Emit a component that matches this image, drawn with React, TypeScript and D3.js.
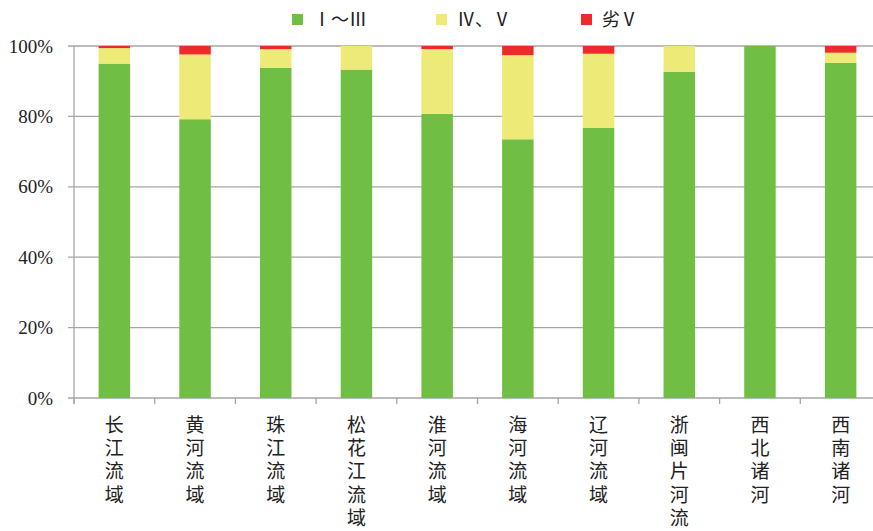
import React, { useEffect, useRef } from 'react';
import * as d3 from 'd3';

// River basins (vertical labels)
const categories = ['长江流域', '黄河流域', '珠江流域', '松花江流域', '淮河流域', '海河流域', '辽河流域', '浙闽片河流', '西北诸河', '西南诸河'];
const seriesNames = ['Ⅰ～Ⅲ', 'Ⅳ、Ⅴ', '劣Ⅴ'];
const seriesColors = ['#70bf44', '#edea78', '#ee2a2a'];

// share of sections per class, in %
const gradeI_III = [95.0, 79.2, 93.8, 93.3, 80.7, 73.5, 76.7, 92.7, 100, 95.2];
const gradeIV_V = [4.4, 18.4, 5.3, 6.7, 18.4, 23.9, 21.1, 7.3, 0, 2.9];
const gradeWorse = [0.6, 2.4, 0.9, 0, 0.9, 2.6, 2.2, 0, 0, 1.9];

const yTicks = [0, 20, 40, 60, 80, 100];

const W = 873;
const H = 531;

const App = () => {
  const svgRef = useRef(null);

  useEffect(() => {
    const svg = d3.select(svgRef.current);
    svg.selectAll('*').remove();

    const left = 74;
    const right = 881;
    const top = 46;
    const bottom = 398;

    const rows = categories.map((c, i) => ({
      name: c,
      a: gradeI_III[i],
      b: gradeIV_V[i],
      c: gradeWorse[i],
    }));
    const keys = ['a', 'b', 'c'];

    const x = d3.scaleBand().domain(categories).range([left, right]).paddingInner(0.61).paddingOuter(0.305);
    const y = d3.scaleLinear().domain([0, 100]).range([bottom, top]);

    // gridlines
    svg.append('g')
      .selectAll('line')
      .data(yTicks)
      .enter()
      .append('line')
      .attr('x1', left - 6)
      .attr('x2', W)
      .attr('y1', d => y(d))
      .attr('y2', d => y(d))
      .style('stroke', '#a6a6a6')
      .style('stroke-width', '1.3px');

    // y axis line
    svg.append('line')
      .attr('x1', left).attr('x2', left)
      .attr('y1', top).attr('y2', bottom + 6)
      .style('stroke', '#a6a6a6')
      .style('stroke-width', '1.3px');

    // y labels
    svg.append('g')
      .selectAll('text')
      .data(yTicks)
      .enter()
      .append('text')
      .attr('x', left - 21)
      .attr('y', d => y(d))
      .attr('dy', '0.35em')
      .attr('text-anchor', 'end')
      .style('font-family', '"Liberation Serif", serif')
      .style('font-size', '19px')
      .style('fill', '#222')
      .text(d => d + '%');

    // bars
    const stack = d3.stack().keys(keys);
    const layers = stack(rows);
    svg.append('g')
      .selectAll('g')
      .data(layers)
      .enter()
      .append('g')
      .style('fill', (d, i) => seriesColors[i])
      .selectAll('rect')
      .data(d => d)
      .enter()
      .append('rect')
      .attr('x', d => x(d.data.name))
      .attr('width', x.bandwidth())
      .attr('y', d => y(d[1]))
      .attr('height', d => Math.max(0, y(d[0]) - y(d[1])));

    // category tick marks
    const step = x.step();
    svg.append('g')
      .selectAll('line')
      .data(d3.range(categories.length + 1))
      .enter()
      .append('line')
      .attr('x1', i => left + i * step)
      .attr('x2', i => left + i * step)
      .attr('y1', bottom)
      .attr('y2', bottom + 6)
      .style('stroke', '#a6a6a6')
      .style('stroke-width', '1.3px');

    // vertical category labels, one text each in vertical writing mode
    svg.append('g')
      .selectAll('text')
      .data(categories)
      .enter()
      .append('text')
      .attr('x', c => x(c) + x.bandwidth() / 2)
      .attr('y', 415)
      .style('writing-mode', 'vertical-rl')
      .style('text-orientation', 'upright')
      .style('letter-spacing', '4.3px')
      .style('font-family', '"Noto Sans CJK SC", sans-serif')
      .style('font-size', '19px')
      .style('fill', '#222')
      .text(c => c);

    // legend
    const legendX = [292, 436, 581];
    const lg = svg.append('g');
    seriesNames.forEach((s, i) => {
      lg.append('rect')
        .attr('x', legendX[i])
        .attr('y', 14)
        .attr('width', 11)
        .attr('height', 11)
        .style('fill', seriesColors[i]);
      lg.append('text')
        .attr('x', legendX[i] + 21)
        .attr('y', 20)
        .attr('dy', '0.35em')
        .style('font-family', '"Noto Sans CJK SC", sans-serif')
        .style('font-size', '18px')
        .style('fill', '#222')
        .text(s);
    });
  }, []);

  return (
    <svg
      ref={svgRef}
      width={W}
      height={H}
      style={{ position: 'absolute', left: 0, top: 0, background: '#fff' }}
    />
  );
};

export default App;
